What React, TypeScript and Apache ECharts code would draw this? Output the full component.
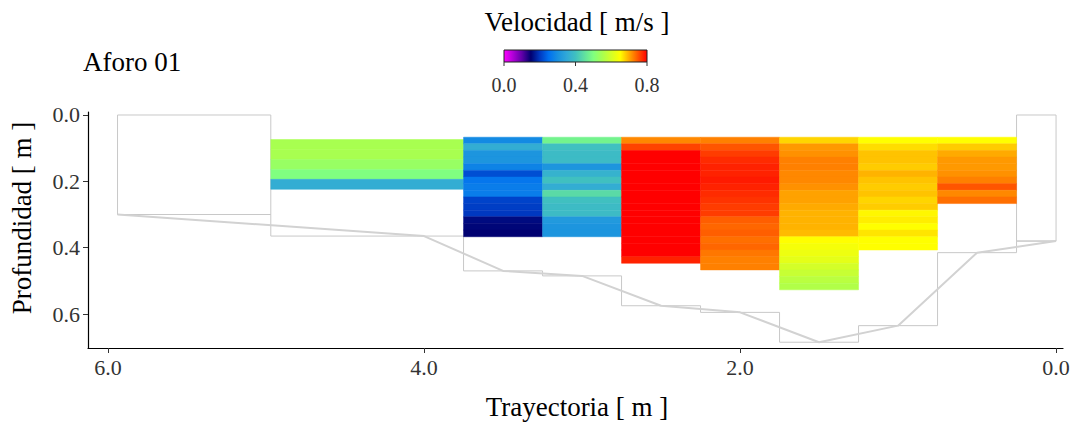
import React, { useEffect, useRef } from "react";
import * as echarts from "echarts";

// Verticals (trajectory, m) and bed depth (m)
const verticals = [5.94, 4.0, 3.5, 3.0, 2.5, 2.0, 1.5, 1.0, 0.5, 0.0];
const depths = [0.30, 0.365, 0.47, 0.485, 0.575, 0.595, 0.685, 0.635, 0.415, 0.38];

// Measured verticals: first cell top (m), cell height (m), velocities (m/s) top to bottom
const measuredX = [4.0, 3.5, 3.0, 2.5, 2.0, 1.5, 1.0, 0.5];
const cellTop = [0.074, 0.067, 0.067, 0.067, 0.067, 0.067, 0.067, 0.067];
const cellSize = [0.03, 0.02, 0.02, 0.02, 0.02, 0.02, 0.02, 0.02];
const vel40 = [0.55, 0.55, 0.53, 0.5, 0.36];
const vel35 = [0.29, 0.36, 0.31, 0.31, 0.28, 0.22, 0.26, 0.27, 0.27, 0.21, 0.205, 0.2, 0.16, 0.155, 0.15];
const vel30 = [0.48, 0.4, 0.39, 0.39, 0.31, 0.37, 0.4, 0.36, 0.44, 0.4, 0.39, 0.39, 0.32, 0.31, 0.31];
const vel25 = [0.72, 0.76, 0.8, 0.81, 0.82, 0.82, 0.81, 0.82, 0.83, 0.82, 0.81, 0.82, 0.81, 0.8, 0.81, 0.8, 0.8, 0.8, 0.78];
const vel20 = [0.725, 0.75, 0.765, 0.775, 0.78, 0.78, 0.785, 0.78, 0.775, 0.77, 0.765, 0.765, 0.745, 0.74, 0.745, 0.735, 0.74, 0.73, 0.725, 0.725];
const vel15 = [0.675, 0.71, 0.715, 0.725, 0.725, 0.72, 0.72, 0.715, 0.705, 0.705, 0.7, 0.695, 0.695, 0.695, 0.69, 0.65, 0.64, 0.63, 0.62, 0.6, 0.585, 0.57, 0.56];
const vel10 = [0.65, 0.67, 0.685, 0.685, 0.68, 0.695, 0.685, 0.68, 0.685, 0.675, 0.68, 0.655, 0.66, 0.65, 0.665, 0.65, 0.65];
const vel05 = [0.65, 0.68, 0.7, 0.71, 0.71, 0.715, 0.725, 0.75, 0.72, 0.735];
const velocities = [vel40, vel35, vel30, vel25, vel20, vel15, vel10, vel05];

// Colour scale
const velMin = 0;
const velMax = 0.8;
const palette = [
  "#ff00ff", "#b000d8", "#6000a8", "#000070", "#0038c0", "#0070f0", "#1890e0", "#30a8d8", "#40c0c0",
  "#60e0a0", "#80ff80", "#a8ff50", "#d4ff28", "#ffff00", "#ffaa00", "#ff5500", "#ff0000",
];
const colorbarTicks = [0.0, 0.4, 0.8];
const xTicks = [0, 2, 4, 6];
const yTicks = [0, 0.2, 0.4, 0.6];

const FONT = "'Liberation Serif', 'Times New Roman', 'DejaVu Serif', serif";

function sectionBounds(i: number): [number, number] {
  const n = verticals.length;
  const left = i === 0 ? verticals[0] : (verticals[i - 1] + verticals[i]) / 2;
  const right = i === n - 1 ? verticals[n - 1] : (verticals[i] + verticals[i + 1]) / 2;
  return [left, right];
}

export default function App() {
  const ref = useRef<HTMLDivElement>(null);
  useEffect(() => {
    if (!ref.current) return;
    const chart = echarts.init(ref.current, undefined, { renderer: "svg" });

    const cells: number[][] = [];
    measuredX.forEach((xv, k) => {
      const i = verticals.indexOf(xv);
      const [l, r] = sectionBounds(i);
      velocities[k].forEach((v, j) => {
        const t = cellTop[k] + j * cellSize[k];
        cells.push([l, r, t, t + cellSize[k], v]);
      });
    });

    const edgeRects: number[][] = [0, verticals.length - 1].map((i) => {
      const [l, r] = sectionBounds(i);
      return [l, r, 0, depths[i]];
    });

    const stepLine: number[][] = [];
    verticals.forEach((_, i) => {
      const [l, r] = sectionBounds(i);
      stepLine.push([l, depths[i]]);
      stepLine.push([r, depths[i]]);
    });

    const profile = verticals.map((v, i) => [v, depths[i]]);

    const rectItem = (api: any) => {
      const p0 = api.coord([api.value(0), api.value(2)]);
      const p1 = api.coord([api.value(1), api.value(3)]);
      return {
        x: Math.min(p0[0], p1[0]),
        y: Math.min(p0[1], p1[1]),
        width: Math.abs(p1[0] - p0[0]),
        height: Math.abs(p1[1] - p0[1]),
      };
    };

    const barX = 504, barY = 50, barW = 143, barH = 12;
    const graphics: any[] = [
      {
        type: "text",
        style: { text: "Velocidad [ m/s ]", x: 577, y: 22, align: "center", verticalAlign: "middle", font: `27px ${FONT}`, fill: "#000" },
      },
      {
        type: "text",
        style: { text: "Aforo 01", x: 83, y: 62, align: "left", verticalAlign: "middle", font: `27px ${FONT}`, fill: "#000" },
      },
      {
        type: "text",
        style: { text: "Trayectoria [ m ]", x: 577, y: 407, align: "center", verticalAlign: "middle", font: `27px ${FONT}`, fill: "#000" },
      },
      {
        type: "text",
        x: 22, y: 218, rotation: Math.PI / 2,
        style: { text: "Profundidad [ m ]", x: 0, y: 0, align: "center", verticalAlign: "middle", font: `27px ${FONT}`, fill: "#000" },
      },
      {
        type: "rect",
        shape: { x: barX, y: barY, width: barW, height: barH },
        style: {
          fill: new echarts.graphic.LinearGradient(0, 0, 1, 0,
            palette.map((c, i) => ({ offset: i / (palette.length - 1), color: c }))),
          stroke: "#222", lineWidth: 1,
        },
      },
    ];
    colorbarTicks.forEach((t) => {
      const x = barX + ((t - velMin) / (velMax - velMin)) * barW;
      graphics.push({ type: "line", shape: { x1: x, y1: barY + barH, x2: x, y2: barY + barH + 4 }, style: { stroke: "#333", lineWidth: 1 } });
      graphics.push({
        type: "text",
        style: { text: t.toFixed(1), x, y: 85, align: "center", verticalAlign: "middle", font: `20px ${FONT}`, fill: "#333" },
      });
    });

    chart.setOption({
      animation: false,
      backgroundColor: "#fff",
      grid: { left: 88, right: 8, top: 112, bottom: 77, containLabel: false, outerBoundsMode: "none" },
      xAxis: {
        type: "value", inverse: true, min: -0.044, max: 6.127,
        axisLine: { show: true, onZero: false, lineStyle: { color: "#000", width: 1.2 } },
        axisTick: { show: true, length: 5, lineStyle: { color: "#333" }, customValues: xTicks },
        axisLabel: { customValues: xTicks, formatter: (v: number) => v.toFixed(1), fontFamily: FONT, fontSize: 22, color: "#333", margin: 8 },
        splitLine: { show: false },
      },
      yAxis: {
        type: "value", inverse: true, min: -0.009, max: 0.7024, position: "left",
        axisLine: { show: true, onZero: false, lineStyle: { color: "#000", width: 1.2 } },
        axisTick: { show: true, length: 5, lineStyle: { color: "#333" }, customValues: yTicks },
        axisLabel: { customValues: yTicks, formatter: (v: number) => v.toFixed(1), fontFamily: FONT, fontSize: 22, color: "#333", margin: 8 },
        splitLine: { show: false },
      },
      visualMap: {
        type: "continuous", show: false, min: velMin, max: velMax, dimension: 4, seriesIndex: 3,
        inRange: { color: palette },
      },
      graphic: graphics,
      series: [
        {
          type: "custom", name: "edges", data: edgeRects, encode: { x: [0, 1], y: [2, 3] },
          renderItem: (_p: any, api: any) => ({
            type: "rect", shape: rectItem(api),
            style: { fill: "none", stroke: "#c8c8c8", lineWidth: 1 },
          }),
          z: 1,
        },
        {
          type: "line", name: "step", data: stepLine, symbol: "none",
          lineStyle: { color: "#c8c8c8", width: 1 }, z: 1,
        },
        {
          type: "line", name: "profile", data: profile, symbol: "none",
          lineStyle: { color: "#d2d2d2", width: 2 }, z: 2,
        },
        {
          type: "custom", name: "cells", data: cells, encode: { x: [0, 1], y: [2, 3] },
          renderItem: (_p: any, api: any) => {
            const c = api.visual("color");
            return { type: "rect", shape: rectItem(api), style: { fill: c, stroke: c, lineWidth: 0.5 } };
          },
          z: 3,
        },
      ],
    });
    return () => chart.dispose();
  }, []);
  return (
    <div
      ref={ref}
      style={{ position: "fixed", left: 0, top: 0, width: 1071, height: 425, background: "#fff" }}
    />
  );
}
